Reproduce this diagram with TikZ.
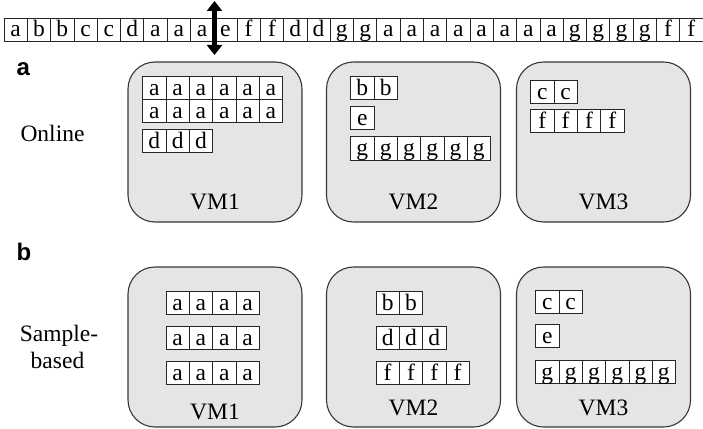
\documentclass[tikz,border=0pt]{standalone}
\usepackage{fontspec}
\setmainfont{Liberation Serif}
\setsansfont{Liberation Sans}
\usetikzlibrary{arrows.meta}
\definecolor{vmfill}{RGB}{229,229,229}
\definecolor{vmedge}{RGB}{55,55,55}

% one row of boxed letters: name, left x, top y, letters
\newcommand{\cellrow}[4]{%
  \foreach \c [count=\k] in {#4}
    \node[cell] (#1-\k) at ({#2+(\k-1)*23.3},#3) {\c};}

\begin{document}
\begin{tikzpicture}[x=1pt,y=-1pt,
    cell/.style={draw=black!85,fill=white,line width=0.8pt,inner sep=0pt,outer sep=0pt,
      anchor=north west,minimum width=23.3pt,minimum height=23.3pt,
      text height=19pt,text depth=4.3pt,font=\fontsize{23.5}{25}\selectfont},
    vmbox/.style={draw=vmedge,fill=vmfill,line width=1.1pt,rounded corners=27pt,
      minimum width=174pt,minimum height=160pt},
    vmlabel/.style={anchor=base,font=\fontsize{23.5}{26}\selectfont},
    modelabel/.style={anchor=base,font=\fontsize{23.5}{26}\selectfont},
    part/.style={anchor=base west,font=\fontsize{24}{26}\selectfont\sffamily\bfseries}]
  \useasboundingbox (0,0) rectangle (703,428);

  % incoming stream
  \cellrow{seq}{4}{18}{a,b,b,c,c,d,a,a,a,e,f,f,d,d,g,g,a,a,a,a,a,a,a,a,g,g,g,g,f,f}
  \coordinate (cut top) at (214.5,1);
  \coordinate (cut bot) at (214.5,55);
  \draw[line width=4.5pt,{Triangle[length=10pt,width=15pt]}-{Triangle[length=10pt,width=15pt]}]
    (cut top) -- (cut bot);

  % (a) online
  \node[part] (parta) at (13,75) {a};
  \node[modelabel] (online) at (52.5,141.7) {Online};
  \node[vmbox] (on1) at (215,142) {};
  \node[vmbox] (on2) at (413.5,142) {};
  \node[vmbox] (on3) at (603.5,142) {};
  \cellrow{on1a}{142.7}{76}{a,a,a,a,a,a}
  \cellrow{on1b}{142.7}{99.3}{a,a,a,a,a,a}
  \cellrow{on1c}{142.7}{129.3}{d,d,d}
  \cellrow{on2a}{350.7}{76}{b,b}
  \cellrow{on2b}{350.7}{106}{e}
  \cellrow{on2c}{350.7}{136.7}{g,g,g,g,g,g}
  \cellrow{on3a}{530.7}{80}{c,c}
  \cellrow{on3b}{530.7}{109.3}{f,f,f,f}
  \node[vmlabel] (on1 name) at (215,209) {VM1};
  \node[vmlabel] (on2 name) at (413.5,209) {VM2};
  \node[vmlabel] (on3 name) at (603.5,209) {VM3};

  % (b) sample-based
  \node[part] (partb) at (13,260) {b};
  \node[modelabel] (sample) at (59,341.7) {Sample-};
  \node[modelabel] (based) at (57.5,368.3) {based};
  \node[vmbox] (sb1) at (215,347) {};
  \node[vmbox] (sb2) at (413.5,347) {};
  \node[vmbox] (sb3) at (603.5,347) {};
  \cellrow{sb1a}{166}{291.5}{a,a,a,a}
  \cellrow{sb1b}{166}{326.5}{a,a,a,a}
  \cellrow{sb1c}{166}{361}{a,a,a,a}
  \cellrow{sb2a}{376}{291}{b,b}
  \cellrow{sb2b}{376}{326}{d,d,d}
  \cellrow{sb2c}{376}{361}{f,f,f,f}
  \cellrow{sb3a}{535.7}{290}{c,c}
  \cellrow{sb3b}{535.7}{324}{e}
  \cellrow{sb3c}{535.7}{360}{g,g,g,g,g,g}
  \node[vmlabel] (sb1 name) at (215,419) {VM1};
  \node[vmlabel] (sb2 name) at (413.5,415.5) {VM2};
  \node[vmlabel] (sb3 name) at (603.5,415.5) {VM3};
\end{tikzpicture}
\end{document}
